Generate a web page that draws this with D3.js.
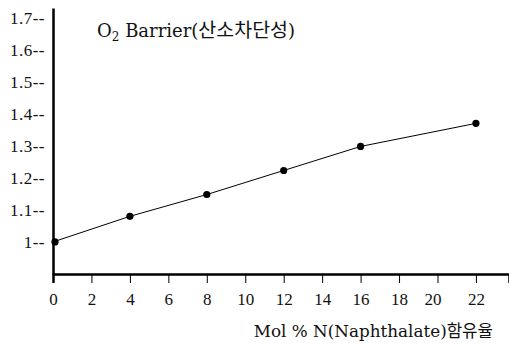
<!DOCTYPE html>
<html>
<head>
<meta charset="utf-8">
<script src="https://cdn.jsdelivr.net/npm/d3@7"></script>
<style>
  body { margin: 0; background: #fff; }
</style>
</head>
<body>
<div id="chart"></div>
<script>
// Data
const molPercent = [0, 4, 8, 12, 16, 22];
const barrier = [1.0, 1.08, 1.148, 1.223, 1.298, 1.37];
const xTicks = [0, 2, 4, 6, 8, 10, 12, 14, 16, 18, 20, 22];
const yTicks = [1, 1.1, 1.2, 1.3, 1.4, 1.5, 1.6, 1.7];

const width = 509, height = 351;
const tickFont = "'Liberation Serif', 'Times New Roman', serif";
const labelFont = "'DejaVu Serif', 'Noto Sans CJK KR', serif";

const svg = d3.select("#chart").append("svg")
  .attr("width", width)
  .attr("height", height);

// Scales
const x = d3.scaleLinear().domain([0, 23.72]).range([53, 509]);
const y = d3.scaleLinear().domain([0.9, 1.73]).range([274, 8]);

// Y axis (labels carry the "--" marks like the original)
const yAxis = svg.append("g")
  .attr("transform", `translate(${x(0)},0)`)
  .call(d3.axisLeft(y)
    .tickValues(yTicks)
    .tickSize(0)
    .tickPadding(8)
    .tickFormat(d => (d === 1 ? "1" : d3.format(".1f")(d)) + "--"))
  .attr("font-family", tickFont)
  .attr("font-size", 17);
yAxis.select(".domain").attr("stroke", "#000").attr("stroke-width", 2.5);
yAxis.selectAll("text").attr("fill", "#111").attr("letter-spacing", 0.5);

// X axis
const xAxis = svg.append("g")
  .attr("transform", `translate(0,${y(0.9)})`)
  .call(d3.axisBottom(x)
    .tickValues(xTicks)
    .tickSize(9)
    .tickPadding(10)
    .tickFormat(d3.format("d")))
  .attr("font-family", tickFont)
  .attr("font-size", 17);
xAxis.select(".domain").attr("stroke", "#000").attr("stroke-width", 2.5);
xAxis.selectAll(".tick line").attr("stroke", "#000").attr("stroke-width", 1)
  .filter(d => d === 0).remove();
xAxis.selectAll("text").attr("fill", "#111")
  .attr("dx", d => d === 20 ? -5 : 0);

// Line
const line = d3.line()
  .x((d, i) => x(molPercent[i]))
  .y(d => y(d));

svg.append("path")
  .datum(barrier)
  .attr("d", line)
  .attr("fill", "none")
  .attr("stroke", "#000")
  .attr("stroke-width", 1);

// Points
svg.selectAll("circle.pt")
  .data(barrier)
  .enter()
  .append("circle")
  .attr("class", "pt")
  .attr("cx", (d, i) => x(molPercent[i]) + (i === 0 ? 2 : 0))
  .attr("cy", d => y(d))
  .attr("r", 3.6)
  .attr("fill", "#000");

// Title inside plot
const title = svg.append("text")
  .attr("x", 97)
  .attr("y", 37)
  .attr("font-family", labelFont)
  .attr("font-size", 18)
  .attr("fill", "#111");
title.append("tspan").text("O");
title.append("tspan").text("2").attr("dy", 4).attr("font-size", 12);
title.append("tspan").text(" Barrier(").attr("dy", -4);
title.append("tspan").text("산소차단성").attr("font-size", 19.5);
title.append("tspan").text(")");

// X axis label
svg.append("text")
  .attr("x", 493)
  .attr("y", 337)
  .attr("text-anchor", "end")
  .attr("font-family", labelFont)
  .attr("font-size", 16.8)
  .attr("fill", "#111")
  .text("Mol % N(Naphthalate)함유율");
</script>
</body>
</html>
